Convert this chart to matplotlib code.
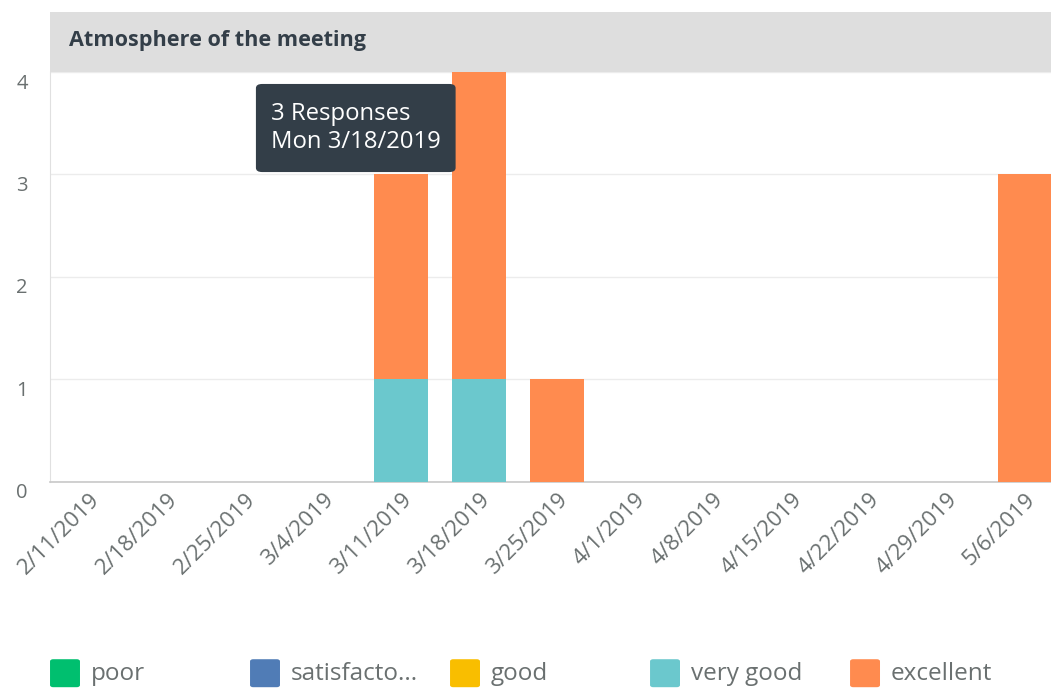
import numpy as np
import matplotlib
matplotlib.use("Agg")
import matplotlib.pyplot as plt
import matplotlib.transforms as mtransforms
from matplotlib.patches import Rectangle, FancyBboxPatch

plt.rcParams['font.family'] = ['Open Sans', 'DejaVu Sans']

# --------------------------------------------------------------------
# data
weeks = ["2/11/2019", "2/18/2019", "2/25/2019", "3/4/2019", "3/11/2019", "3/18/2019",
         "3/25/2019", "4/1/2019", "4/8/2019", "4/15/2019", "4/22/2019", "4/29/2019", "5/6/2019"]
series_names = ["poor", "satisfacto...", "good", "very good", "excellent"]
poor         = [0, 0, 0, 0, 0, 0, 0, 0, 0, 0, 0, 0, 0]
satisfactory = [0, 0, 0, 0, 0, 0, 0, 0, 0, 0, 0, 0, 0]
good         = [0, 0, 0, 0, 0, 0, 0, 0, 0, 0, 0, 0, 0]
very_good    = [0, 0, 0, 0, 1, 1, 0, 0, 0, 0, 0, 0, 0]
excellent    = [0, 0, 0, 0, 2, 3, 1, 0, 0, 0, 0, 0, 3]
colors = ["#00bf6f", "#507cb6", "#f9be00", "#6bc8cd", "#ff8b4f"]
y_ticks = [0, 1, 2, 3, 4]

title = "Atmosphere of the meeting"
tooltip = "3 Responses\nMon 3/18/2019"

# --------------------------------------------------------------------
# figure
fig = plt.figure(figsize=(10.51, 6.91), dpi=100)
ax = fig.add_axes([0.0476, 0.3025, 0.9524, 0.5933])

x = np.arange(len(weeks))
bottom = np.zeros(len(weeks))
for vals, col in zip([poor, satisfactory, good, very_good, excellent], colors):
    vals = np.array(vals, dtype=float)
    ax.bar(x, vals, width=0.69, bottom=bottom, color=col, zorder=3)
    bottom += vals

ax.set_xlim(-0.5, 12.33)
ax.set_ylim(0, 4)
ax.set_yticks(y_ticks)
ax.set_xticks(x)
ax.set_xticklabels(weeks, rotation=45, ha="right", va="top",
                   rotation_mode="anchor", fontsize=16, color="#6a7070")
ax.tick_params(axis="both", length=0)
ax.tick_params(axis="x", pad=5)
ax.tick_params(axis="y", pad=16, labelsize=14.5, labelcolor="#6a7070")
# y labels sit a little below the grid lines
off = mtransforms.ScaledTranslation(0, -0.09, fig.dpi_scale_trans)
for lab in ax.get_yticklabels():
    lab.set_transform(lab.get_transform() + off)

ax.yaxis.grid(True, color="#ececec", linewidth=1, zorder=0)
for s in ["top", "right"]:
    ax.spines[s].set_visible(False)
ax.spines["left"].set_color("#e0e0e0")
ax.spines["bottom"].set_color("#c8c8c8")
ax.spines["bottom"].set_linewidth(1.2)

# header band
fig.patches.append(Rectangle((0.0476, 0.8958), 0.9524, 0.0868, transform=fig.transFigure,
                             facecolor="#dedede", edgecolor="none", zorder=0))
fig.text(0.066, 0.941, title, fontsize=15.6, fontweight="bold", color="#333e48",
         va="center", ha="left")

# tooltip
fig.patches.append(FancyBboxPatch((0.2435, 0.751), 0.19, 0.1275, transform=fig.transFigure,
                                  boxstyle="round,pad=0,rounding_size=0.006",
                                  facecolor="#333e48", edgecolor="none", zorder=5))
fig.text(0.258, 0.815, tooltip, fontsize=17.2, color="white", va="center", ha="left",
         linespacing=1.2, zorder=6)

# legend
for i, (name, col) in enumerate(zip(series_names, colors)):
    lx = 0.0476 + i * 0.1903
    fig.patches.append(FancyBboxPatch((lx, 0.0055), 0.0285, 0.0405, transform=fig.transFigure,
                                      boxstyle="round,pad=0,rounding_size=0.003",
                                      facecolor=col, edgecolor="none"))
    fig.text(lx + 0.039, 0.024, name, fontsize=17.5, color="#6a7070", va="center", ha="left")

fig.savefig("out.png", dpi=100)
